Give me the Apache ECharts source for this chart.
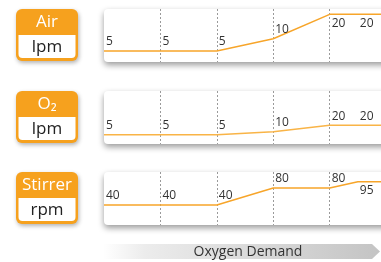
<!DOCTYPE html>
<html>
<head>
<meta charset="utf-8">
<script src="https://cdn.jsdelivr.net/npm/echarts@6/dist/echarts.min.js"></script>
<style>html,body{margin:0;padding:0;background:#fff}#chart{width:381px;height:262px}</style>
</head>
<body>
<div id="chart"></div>
<script>
// demand steps along the x axis (4.5 = half step, 5 = runs off the right edge)
var steps = [0, 1, 2, 3, 4, 4.5, 5];
var airLpm = [5, 5, 5, 10, 20, 20, 20];
var o2Lpm = [5, 5, 5, 10, 20, 20, 20];
var stirrerRpm = [40, 40, 40, 80, 80, 95, 95];
var rowNames = ['Air', 'O₂', 'Stirrer'];
var rowUnits = ['lpm', 'lpm', 'rpm'];
var axisTitle = 'Oxygen Demand';

var dom = echarts.init(document.getElementById('chart'));
var font = '"Open Sans", "Noto Sans", sans-serif';
var orange = '#f6a11e';
var tops = [9, 91, 172];
var rowH = 53;
var yRange = [[0.5, 22.2], [-9.5, 74.4], [-7.2, 117.9]];
var rows = [airLpm, o2Lpm, stirrerRpm];
var labelBelow = [[4, 5], [], [5]];

function makeData(vals, below) {
  return vals.map(function (v, i) {
    var item = { value: [steps[i], v] };
    if (i === vals.length - 1) item.label = { show: false };
    else if (below.indexOf(i) >= 0) item.label = { position: 'bottom', distance: 3 };
    return item;
  });
}

var graphic = [];
tops.forEach(function (t, k) {
  // white panel behind the chart
  graphic.push({
    type: 'rect', z: -5,
    shape: { x: 104, y: t, width: 300, height: rowH, r: 4 },
    style: { fill: '#fff', shadowBlur: 6, shadowOffsetY: 3, shadowColor: 'rgba(0,0,0,0.4)' }
  });
  // orange name box
  graphic.push({
    type: 'rect', z: -5,
    shape: { x: 16, y: t, width: 62, height: rowH - 1, r: 6 },
    style: { fill: orange, shadowBlur: 4, shadowOffsetX: 1, shadowOffsetY: 2, shadowColor: 'rgba(0,0,0,0.3)' }
  });
  graphic.push({
    type: 'rect', z: -4,
    shape: { x: 18.5, y: t + 26, width: 57, height: rowH - 30, r: [0, 0, 4, 4] },
    style: { fill: '#fff' }
  });
  graphic.push({
    type: 'text', z: -3,
    style: { text: rowNames[k], x: 47, y: t + 13, align: 'center', verticalAlign: 'middle',
      fill: '#fff', fontSize: 17, fontFamily: font }
  });
  graphic.push({
    type: 'text', z: -3,
    style: { text: rowUnits[k], x: 47, y: t + 38, align: 'center', verticalAlign: 'middle',
      fill: '#222', fontSize: 17, fontFamily: font }
  });
});

// grey arrow with the axis title
graphic.push({
  type: 'polygon', z: -5,
  shape: { points: [[103, 244], [372, 244], [380, 251.5], [372, 259], [103, 259]] },
  style: {
    fill: { type: 'linear', x: 0, y: 0, x2: 1, y2: 0, colorStops: [
      { offset: 0, color: '#ffffff' }, { offset: 0.15, color: '#ececec' }, { offset: 1, color: '#c4c4c4' }] }
  }
});
graphic.push({
  type: 'text', z: -3,
  style: { text: axisTitle, x: 248, y: 252, align: 'center', verticalAlign: 'middle',
    fill: '#333', fontSize: 14, fontFamily: font }
});

option = {
  animation: false,
  graphic: graphic,
  grid: tops.map(function (t) {
    return { left: 104, right: 0, top: t, height: rowH };
  }),
  xAxis: tops.map(function (t, k) {
    return {
      type: 'value', gridIndex: k, min: 0, max: 4.91, interval: 1,
      axisLine: { show: false }, axisTick: { show: false }, axisLabel: { show: false },
      splitLine: { show: true, showMinLine: false, showMaxLine: false,
        lineStyle: { type: [2, 2], color: '#9a9a9a', width: 1 } }
    };
  }),
  yAxis: tops.map(function (t, k) {
    return { type: 'value', gridIndex: k, min: yRange[k][0], max: yRange[k][1], show: false };
  }),
  series: rows.map(function (vals, k) {
    return {
      type: 'line', xAxisIndex: k, yAxisIndex: k,
      data: makeData(vals, labelBelow[k]),
      symbol: 'circle', symbolSize: 0,
      lineStyle: { color: k === 1 ? '#f9b447' : '#f7a52a', width: 1.5 },
      itemStyle: { color: '#f7a52a' },
      label: {
        show: true, position: 'top', align: 'left', offset: [2, 0], distance: 3,
        fontSize: 12, color: '#333', fontFamily: font,
        formatter: function (p) { return p.value[1]; }
      },
      emphasis: { disabled: true }
    };
  })
};

dom.setOption(option);
</script>
</body>
</html>
